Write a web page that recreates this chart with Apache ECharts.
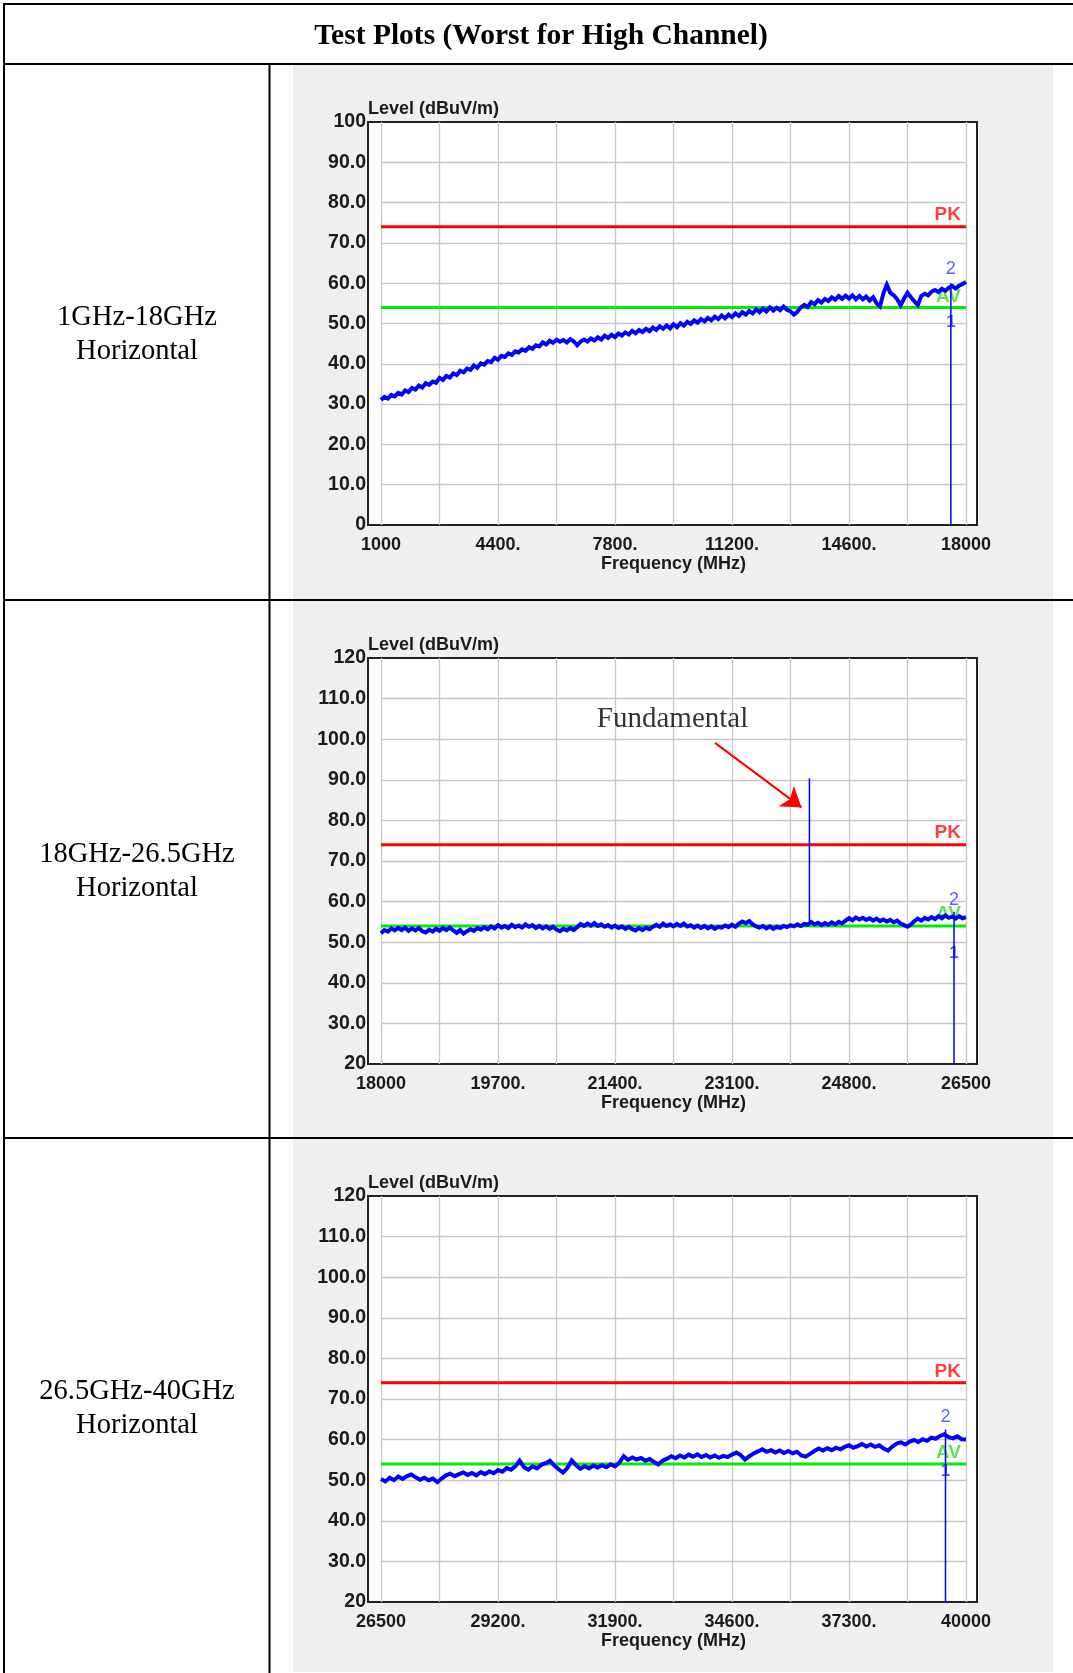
<!DOCTYPE html>
<html><head><meta charset="utf-8">
<script src="https://cdn.jsdelivr.net/npm/echarts@6.0.0/dist/echarts.min.js"></script>
<style>html,body{margin:0;padding:0;background:#fff}#c{width:1073px;height:1673px}</style>
</head><body><div id="c"></div><script>
// ---------- text ----------
const pageTitle = 'Test Plots (Worst for High Channel)';
const rowLabels = [['1GHz-18GHz', 'Horizontal'], ['18GHz-26.5GHz', 'Horizontal'], ['26.5GHz-40GHz', 'Horizontal']];
const yAxisTitle = 'Level (dBuV/m)';
const xAxisTitle = 'Frequency (MHz)';

// ---------- axes ----------
const xMin = [1000, 18000, 26500];
const xMax = [18000, 26500, 40000];
const xGridStep = [1700, 850, 1350];
const yMin = [0, 20, 20];
const yMax = [100, 120, 120];
const yGridStep = [10, 10, 10];

// ---------- limits ----------
const peakLimit = 74;
const avgLimit = 54;

// ---------- sweeps (start = xMin, step in MHz) ----------
const sweepStep = [100, 50, 100];
const trace1 = [
31.0,31.8,31.4,32.3,31.9,32.8,32.4,33.4,33.0,34.0,
33.6,34.6,34.1,35.2,34.8,35.6,35.3,36.5,36.0,37.0,
36.6,37.6,37.2,38.3,37.9,38.8,38.5,39.6,39.0,40.1,
39.8,40.7,40.4,41.5,41.0,42.0,41.7,42.6,42.2,43.1,
42.8,43.6,43.2,44.1,43.7,44.6,44.3,45.3,44.8,45.7,
45.2,46.0,45.5,45.9,45.3,46.1,45.6,44.6,45.5,46.0,
45.5,46.3,45.8,46.6,46.0,47.0,46.4,47.2,46.6,47.5,
47.0,47.8,47.3,48.2,47.6,48.4,47.9,48.7,48.1,49.0,
48.4,49.3,48.7,49.5,48.8,49.8,49.1,50.1,49.5,50.4,
49.9,50.8,50.2,51.1,50.5,51.4,50.8,51.7,51.1,52.0,
51.3,52.2,51.6,52.5,51.9,52.8,52.2,53.1,52.5,53.5,
52.8,53.7,53.0,54.0,53.2,53.9,53.3,54.2,53.4,53.0,
52.2,52.9,54.0,54.6,54.1,55.3,54.8,55.8,55.2,56.1,
55.6,56.5,55.9,56.8,56.1,56.9,56.2,57.0,56.0,56.8,
56.0,56.7,55.7,56.5,55.0,54.2,57.5,59.6,57.6,57.0,
56.0,54.5,56.2,57.6,56.5,55.5,54.6,56.8,57.4,57.0,
57.9,58.3,57.8,58.6,58.1,58.9,59.3,58.7,59.4,59.8,
60.3];
const trace2 = [
52.2,53.0,52.6,53.4,52.9,53.5,53.0,53.6,52.8,53.4,
52.9,53.5,52.7,52.4,53.1,52.6,53.3,52.8,53.5,53.0,
53.6,52.9,52.3,53.0,52.1,52.7,53.2,52.8,53.5,53.1,
53.7,53.2,53.9,53.4,54.2,53.6,54.0,53.5,54.3,53.7,
54.1,53.6,54.4,53.8,54.2,53.5,54.0,53.4,53.9,53.3,
53.8,53.1,52.7,53.3,52.9,53.5,53.0,53.7,54.5,54.0,
54.6,54.1,54.7,54.0,54.4,53.8,54.2,53.6,54.1,53.5,
53.9,53.3,53.8,53.2,52.9,53.5,53.0,53.6,53.2,53.8,
54.3,53.8,54.6,54.0,54.4,53.9,54.5,54.0,54.6,53.9,
54.2,53.6,54.1,53.5,54.0,53.4,53.9,53.3,53.8,53.6,
54.1,53.7,54.3,53.8,54.6,55.1,54.7,55.2,54.4,53.9,
53.6,54.0,53.4,53.9,53.3,53.8,53.5,54.0,53.7,54.2,
53.9,54.4,54.0,54.5,54.3,55.0,54.4,54.8,54.2,54.7,
54.3,54.9,54.4,55.0,54.6,55.3,55.9,55.4,56.1,55.6,
56.0,55.5,55.9,55.3,55.8,55.2,55.6,55.1,55.5,54.9,
55.3,54.6,54.2,53.8,54.4,55.2,55.8,55.3,56.0,55.6,
56.2,55.7,56.4,55.9,56.6,56.0,56.3,55.8,56.4,55.9,
56.2];
const trace3 = [
50.3,49.7,50.6,50.0,50.9,50.3,51.0,51.4,50.7,50.1,
50.6,50.0,50.4,49.5,50.4,51.2,51.6,51.0,51.5,51.9,
51.3,51.8,51.2,52.0,51.5,52.2,51.7,52.5,52.1,53.0,
52.6,53.4,54.8,53.2,52.6,53.4,52.9,53.8,54.2,54.8,
53.6,52.7,51.9,53.0,54.9,53.7,52.8,53.5,52.9,53.6,
53.1,53.7,53.2,53.9,53.4,54.3,55.9,55.0,55.6,55.1,
55.5,54.8,55.2,54.5,53.9,54.8,55.3,55.9,55.4,56.1,
55.6,56.3,55.8,56.4,55.7,56.2,55.6,56.1,55.5,56.0,
55.7,56.3,56.8,56.2,55.1,55.9,56.6,57.1,57.6,57.0,
57.4,56.8,57.3,56.7,57.2,56.6,57.0,56.1,55.8,56.5,
57.2,57.8,57.3,57.9,57.4,58.0,57.6,58.2,58.6,58.0,
58.4,58.9,58.3,58.8,58.2,58.6,57.8,57.3,58.3,59.0,
59.3,58.8,59.5,59.9,59.4,60.1,59.7,60.5,60.2,60.9,
61.3,60.6,60.3,60.8,60.1,60.0];
const traces = [trace1, trace2, trace3];

// ---------- markers ----------
const markerFreq = [17560, 26326, 39527];
const markerTop = [60.0, 57.5, 62.5];
const marker2Level = [63.5, 60.4, 65.6];
const marker1Level = [50.4, 47.3, 52.3];
const pkTextLevel = [76.9, 76.9, 76.7];
const avTextLevel = [56.6, 57.0, 56.7];

// ---------- fundamental annotation (chart 2) ----------
const fundamentalFreq = 24225;
const fundamentalBase = 54.8;
const fundamentalPeak = 90.4;
const fundamentalText = 'Fundamental';
const fundamentalTextPos = [22236, 105.0];
const arrowFrom = [22853, 99.1];
const arrowTo = [24110, 83.2];

// ---------- layout ----------
const plotTop = [122, 658, 1196];
const plotH = [403, 406, 406];
const innerLeft = 381, innerW = 585;
const frameLeft = 368, frameW = 609;
const axisFont = {fontFamily: 'Liberation Sans', fontWeight: 'bold', fontSize: 18, color: '#1a1a1a'};
const yLabelFont = {fontFamily: 'Liberation Sans', fontWeight: 'bold', fontSize: 19.5, color: '#1a1a1a'};

const grids = [], xAxes = [], yAxes = [], series = [];
for (let i = 0; i < 3; i++) {
  grids.push({left: frameLeft, width: frameW, top: plotTop[i], height: plotH[i], show: true,
    backgroundColor: '#ffffff', borderColor: '#222', borderWidth: 2, outerBoundsMode: 'none'});
  xAxes.push({gridIndex: i, type: 'value', min: 0, max: 1, show: false});
  yAxes.push({gridIndex: i, type: 'value', min: 0, max: 1, show: true,
    axisLine: {show: false}, axisTick: {show: false}, axisLabel: {show: false}, splitLine: {show: false},
    name: yAxisTitle, nameLocation: 'end', nameGap: 13,
    nameTextStyle: Object.assign({align: 'left', verticalAlign: 'middle'}, axisFont)});
}
for (let i = 0; i < 3; i++) {
  grids.push({left: innerLeft, width: innerW, top: plotTop[i], height: plotH[i], show: false, outerBoundsMode: 'none'});
  const mn = xMin[i], mx = xMax[i], st = xGridStep[i];
  xAxes.push({gridIndex: 3 + i, type: 'value', min: mn, max: mx, interval: st,
    axisLine: {show: false}, axisTick: {show: false},
    splitLine: {show: true, showMinLine: true, showMaxLine: true, lineStyle: {color: '#c8c8c8', width: 1.3}},
    axisLabel: Object.assign({margin: 11, showMinLabel: true, showMaxLabel: true,
      formatter: function (v) {
        const k = Math.round((v - mn) / st);
        if (k % 2 === 1) return '';
        if (v === mn || v === mx) return String(v);
        return v + '.';
      }}, axisFont),
    name: xAxisTitle, nameLocation: 'middle', nameGap: 30,
    nameTextStyle: axisFont});
  const ymn = yMin[i], ymx = yMax[i];
  yAxes.push({gridIndex: 3 + i, type: 'value', min: ymn, max: ymx, interval: yGridStep[i],
    axisLine: {show: false}, axisTick: {show: false},
    splitLine: {show: true, showMinLine: false, showMaxLine: false, lineStyle: {color: '#c8c8c8', width: 1.3}},
    axisLabel: Object.assign({margin: 15, showMinLabel: true, showMaxLabel: true,
      formatter: function (v) { return (v === ymn || v === ymx) ? String(v) : v.toFixed(1); }}, yLabelFont)});

  const ax = 3 + i;
  series.push({type: 'line', xAxisIndex: ax, yAxisIndex: ax, silent: true, symbol: 'none', z: 2,
    data: [[mn, peakLimit], [mx, peakLimit]], lineStyle: {color: '#ff0000', width: 3}});
  series.push({type: 'line', xAxisIndex: ax, yAxisIndex: ax, silent: true, symbol: 'none', z: 2,
    data: [[mn, avgLimit], [mx, avgLimit]], lineStyle: {color: '#00ee00', width: 3}});
  series.push({type: 'scatter', xAxisIndex: ax, yAxisIndex: ax, silent: true, symbolSize: 0, z: 2,
    data: [
      {value: [mx, pkTextLevel[i]], label: {show: true, formatter: 'PK', position: 'inside', align: 'right', offset: [-5, 0], color: '#ff1010', fontWeight: 'bold', fontSize: 19, fontFamily: 'Liberation Sans'}},
      {value: [mx, avTextLevel[i]], label: {show: true, formatter: 'AV', position: 'inside', align: 'right', offset: [-5, 0], color: '#33dd22', fontWeight: 'bold', fontSize: 19, fontFamily: 'Liberation Sans'}},
      {value: [markerFreq[i], marker2Level[i]], label: {show: true, formatter: '2', position: 'inside', color: '#3a3aff', fontSize: 18, fontFamily: 'Liberation Sans'}},
      {value: [markerFreq[i], marker1Level[i]], label: {show: true, formatter: '1', position: 'inside', color: '#2020ee', fontWeight: 'bold', fontSize: 17, fontFamily: 'Liberation Sans'}}
    ]});
  const tr = traces[i];
  series.push({type: 'line', xAxisIndex: ax, yAxisIndex: ax, silent: true, symbol: 'none', z: 3,
    data: tr.map((v, k) => [mn + k * sweepStep[i], v]), lineStyle: {color: '#0000ff', width: 4, join: 'miter'}});
  series.push({type: 'line', xAxisIndex: ax, yAxisIndex: ax, silent: true, symbol: 'none', z: 4,
    data: [[markerFreq[i], markerTop[i]], [markerFreq[i], ymn]], lineStyle: {color: '#0000ff', width: 1.5}});
}
// chart 2: fundamental spike, arrow and text
series.push({type: 'line', xAxisIndex: 4, yAxisIndex: 4, silent: true, symbol: 'none', z: 4,
  data: [[fundamentalFreq, fundamentalBase], [fundamentalFreq, fundamentalPeak]], lineStyle: {color: '#0000ff', width: 1.5},
  markLine: {silent: true, symbol: ['none', 'arrow'], symbolSize: 19, animation: false,
    lineStyle: {color: '#ff0000', width: 2, type: 'solid'}, label: {show: false},
    data: [[{coord: arrowFrom}, {coord: arrowTo}]]}});
series.push({type: 'scatter', xAxisIndex: 4, yAxisIndex: 4, silent: true, symbolSize: 0, z: 5,
  data: [{value: fundamentalTextPos, label: {show: true, position: 'inside', formatter: fundamentalText,
    color: '#000', fontSize: 29, fontFamily: 'Liberation Serif'}}]});

// ---------- page frame ----------
const rowTop = [64, 600, 1138], rowBottom = [600, 1138, 1673];
const graphic = [];
for (let i = 0; i < 3; i++) {
  graphic.push({type: 'rect', z: -10, silent: true, shape: {x: 293, y: rowTop[i] + 1, width: 760, height: rowBottom[i] - rowTop[i] - 2}, style: {fill: '#efefef'}});
  const c = (rowTop[i] + rowBottom[i]) / 2;
  graphic.push({type: 'text', z: 50, silent: true, x: 137, y: c - 14, style: {text: rowLabels[i][0], font: '28.5px "Liberation Serif"', fill: '#000', align: 'center', verticalAlign: 'middle'}});
  graphic.push({type: 'text', z: 50, silent: true, x: 137, y: c + 20, style: {text: rowLabels[i][1], font: '28.5px "Liberation Serif"', fill: '#000', align: 'center', verticalAlign: 'middle'}});
}
const ln = (x1, y1, x2, y2) => ({type: 'line', z: 50, silent: true, shape: {x1, y1, x2, y2}, style: {stroke: '#000', lineWidth: 2}});
graphic.push(ln(3, 4, 1073, 4), ln(4, 3, 4, 1673), ln(3, 64, 1073, 64), ln(3, 600, 1073, 600), ln(3, 1138, 1073, 1138), ln(269.5, 64, 269.5, 1673));
graphic.push({type: 'text', z: 50, silent: true, x: 541, y: 36, style: {text: pageTitle, font: 'bold 29.5px "Liberation Serif"', fill: '#000', align: 'center', verticalAlign: 'middle'}});

const chart = echarts.init(document.getElementById('c'), null, {renderer: 'canvas'});
chart.setOption({animation: false, backgroundColor: '#ffffff', grid: grids, xAxis: xAxes, yAxis: yAxes, series: series, graphic: graphic});
</script></body></html>
